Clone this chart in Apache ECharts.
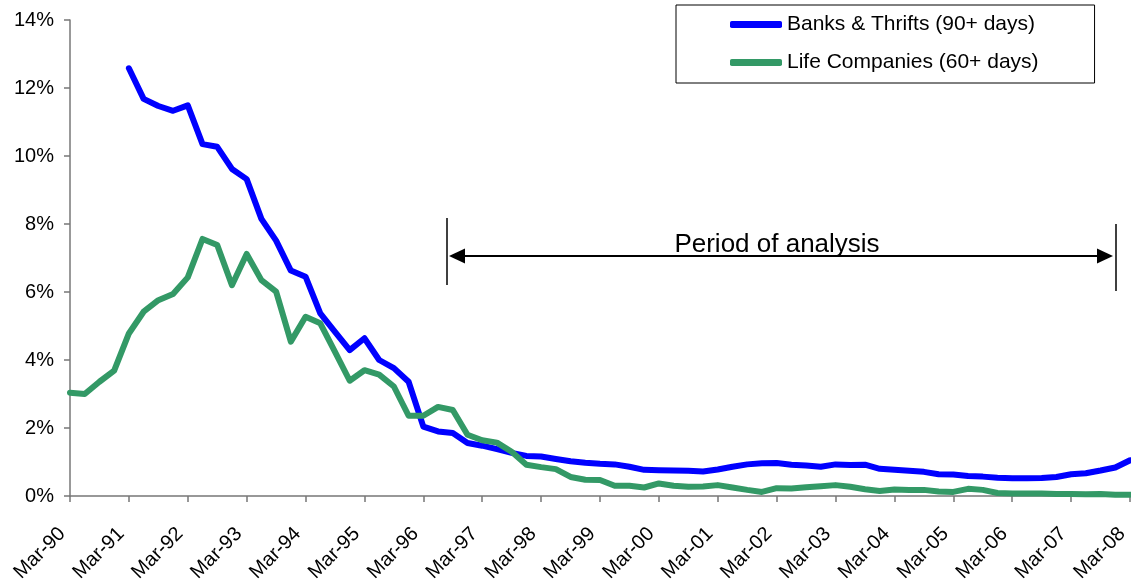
<!DOCTYPE html>
<html>
<head>
<meta charset="utf-8">
<script src="https://cdn.jsdelivr.net/npm/echarts@6/dist/echarts.min.js"></script>
<style>
  html, body { margin: 0; padding: 0; background: #fff; }
  #chart { width: 1131px; height: 582px; }
</style>
</head>
<body>
<div id="chart"></div>
<script>
// Quarterly delinquency rates, Mar-90 to Mar-08 (percent of loans)
const months = ['Mar', 'Jun', 'Sep', 'Dec'];
const categories = [];
for (let y = 1990; y <= 2008; y++) {
  for (let q = 0; q < 4; q++) {
    if (y === 2008 && q > 0) break;
    categories.push(months[q] + '-' + String(y % 100).padStart(2, '0'));
  }
}

// Banks & Thrifts, loans 90+ days past due (series begins Mar-91)
const banksThrifts = [
  null, null, null, null,
  12.58, 11.68, 11.47, 11.33, 11.49, 10.35, 10.27, 9.62, 9.32, 8.15,
  7.51, 6.63, 6.45, 5.37, 4.83, 4.29, 4.64, 4.00, 3.76, 3.36,
  2.04, 1.90, 1.85, 1.56, 1.48, 1.38, 1.27, 1.18, 1.16, 1.09,
  1.02, 0.98, 0.95, 0.93, 0.86, 0.77, 0.76, 0.75, 0.74, 0.72,
  0.78, 0.86, 0.93, 0.96, 0.97, 0.92, 0.90, 0.86, 0.93, 0.91,
  0.92, 0.80, 0.77, 0.74, 0.71, 0.64, 0.63, 0.59, 0.57, 0.54,
  0.52, 0.52, 0.53, 0.56, 0.64, 0.67, 0.75, 0.84, 1.05
];

// Life Companies, loans 60+ days past due
const lifeCompanies = [
  3.04, 3.00, 3.36, 3.69, 4.78, 5.42, 5.76, 5.94, 6.43, 7.56,
  7.38, 6.20, 7.12, 6.35, 6.01, 4.54, 5.27, 5.08, 4.24, 3.39,
  3.70, 3.57, 3.22, 2.36, 2.36, 2.62, 2.53, 1.80, 1.64, 1.57,
  1.30, 0.92, 0.85, 0.79, 0.56, 0.48, 0.47, 0.30, 0.30, 0.25,
  0.37, 0.30, 0.27, 0.28, 0.32, 0.25, 0.18, 0.12, 0.23, 0.22,
  0.26, 0.29, 0.32, 0.27, 0.20, 0.15, 0.19, 0.18, 0.18, 0.13,
  0.12, 0.21, 0.18, 0.09, 0.07, 0.07, 0.07, 0.06, 0.06, 0.05,
  0.06, 0.04, 0.04
];

const seriesNames = ['Banks & Thrifts (90+ days)', 'Life Companies (60+ days)'];
const seriesColors = ['#0000ff', '#339966'];
const periodLabel = 'Period of analysis';

const FONT = '"Liberation Sans", Arial, sans-serif';
const axisGrey = '#777777';

const chart = echarts.init(document.getElementById('chart'), null, { renderer: 'canvas' });

const lineSeries = (name, data, color) => ({
  name: name,
  type: 'line',
  data: data,
  symbol: 'none',
  connectNulls: false,
  animation: false,
  lineStyle: { color: color, width: 6, cap: 'round', join: 'round' },
  itemStyle: { color: color }
});

// Bracketed arrow marking the analysis window
const bracket = {
  x1: 447, x2: 1116, y: 256,
  leftTop: 218, leftBottom: 285, rightTop: 224, rightBottom: 291
};

chart.setOption({
  animation: false,
  backgroundColor: '#fff',
  grid: { left: 70, right: 1, top: 20, bottom: 86, containLabel: false, outerBoundsMode: 'none' },
  legend: {
    orient: 'vertical',
    left: 676,
    top: 5,
    padding: [9, 56, 10, 54],
    itemGap: 17,
    itemWidth: 52,
    itemHeight: 7,
    icon: 'roundRect',
    borderColor: '#000',
    borderWidth: 1,
    textStyle: { fontFamily: FONT, fontSize: 21, color: '#000' },
    data: seriesNames
  },
  xAxis: {
    type: 'category',
    data: categories,
    boundaryGap: false,
    axisLine: { lineStyle: { color: axisGrey, width: 1.5 } },
    axisTick: { interval: 3, length: 6, lineStyle: { color: axisGrey, width: 1.5 } },
    axisLabel: {
      interval: 3,
      rotate: 45,
      margin: 27,
      padding: [0, 11, 0, 0],
      fontFamily: FONT,
      fontSize: 20,
      color: '#000'
    },
    splitLine: { show: false }
  },
  yAxis: {
    type: 'value',
    min: 0,
    max: 14,
    interval: 2,
    axisLine: { show: true, lineStyle: { color: axisGrey, width: 1.5 } },
    axisTick: { show: true, length: 6, lineStyle: { color: axisGrey, width: 1.5 } },
    axisLabel: {
      formatter: '{value}%',
      margin: 16,
      fontFamily: FONT,
      fontSize: 20,
      color: '#000'
    },
    splitLine: { show: false }
  },
  series: [
    lineSeries(seriesNames[0], banksThrifts, seriesColors[0]),
    lineSeries(seriesNames[1], lifeCompanies, seriesColors[1])
  ],
  graphic: [
    { type: 'line', shape: { x1: bracket.x1, y1: bracket.leftTop, x2: bracket.x1, y2: bracket.leftBottom },
      style: { stroke: '#000', lineWidth: 1.5 } },
    { type: 'line', shape: { x1: bracket.x2, y1: bracket.rightTop, x2: bracket.x2, y2: bracket.rightBottom },
      style: { stroke: '#000', lineWidth: 1.5 } },
    { type: 'line', shape: { x1: bracket.x1 + 10, y1: bracket.y, x2: bracket.x2 - 10, y2: bracket.y },
      style: { stroke: '#000', lineWidth: 2 } },
    { type: 'polygon', shape: { points: [[bracket.x1 + 2, bracket.y], [bracket.x1 + 18, bracket.y - 7.5], [bracket.x1 + 18, bracket.y + 7.5]] },
      style: { fill: '#000' } },
    { type: 'polygon', shape: { points: [[bracket.x2 - 3, bracket.y], [bracket.x2 - 19, bracket.y - 7.5], [bracket.x2 - 19, bracket.y + 7.5]] },
      style: { fill: '#000' } },
    { type: 'text', x: 777, y: 258,
      style: { text: periodLabel, font: '26px ' + FONT, fill: '#000', textAlign: 'center', textVerticalAlign: 'bottom' } }
  ]
});
</script>
</body>
</html>
